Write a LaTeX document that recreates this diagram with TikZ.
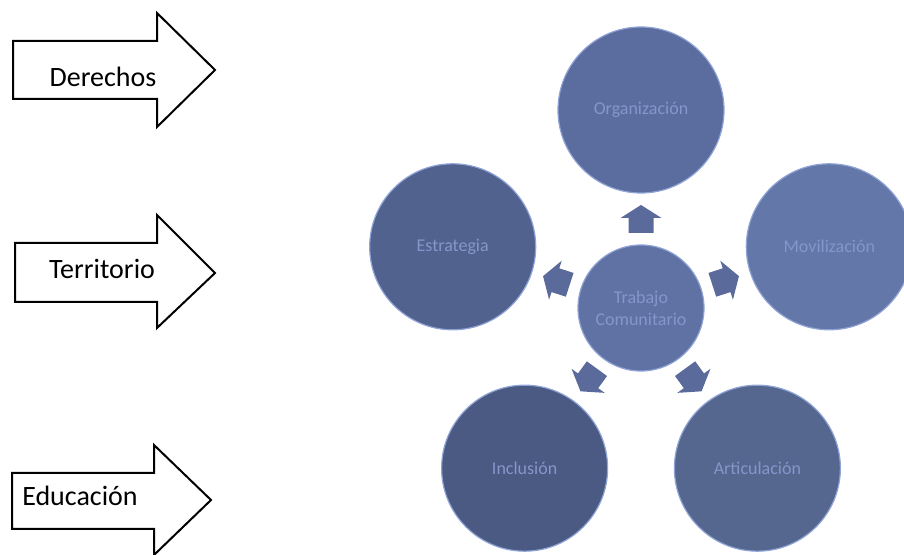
\documentclass[tikz,border=0pt]{standalone}
\usepackage{fontspec}
\setmainfont{Carlito}

\definecolor{ringedge}{HTML}{8FA3D6}
\definecolor{labelblue}{HTML}{8496CB}
\definecolor{hubfill}{HTML}{5F72A3}
\definecolor{orgfill}{HTML}{5B6D9E}
\definecolor{movfill}{HTML}{6378A8}
\definecolor{artfill}{HTML}{56678F}
\definecolor{incfill}{HTML}{4B5A83}
\definecolor{estfill}{HTML}{52628F}
\definecolor{pointerfill}{HTML}{5A6B9B}

\tikzset{
  bubble/.style={circle, draw=ringedge, line width=0.6pt, minimum size=83pt,
    inner sep=0pt, text=labelblue, font=\fontsize{9}{11}\selectfont},
  hub/.style={bubble, minimum size=63pt, align=center},
  bigarrow/.style={draw=black, line width=1pt, fill=white, line join=miter},
  tag/.style={font=\fontsize{14}{16}\selectfont, anchor=base}
}

\begin{document}
\begin{tikzpicture}[x=0.5pt, y=0.5pt]
    \useasboundingbox (0,0) rectangle (904,555);

    %% left arrows
    \draw[bigarrow] (13,514) -- (157,514) -- (157,542) -- (215,485)
        -- (157,428) -- (157,456) -- (13,456) -- cycle;
        \node[tag] (derechos) at (103,468) {Derechos};
    \draw[bigarrow] (15,312) -- (157,312) -- (157,340) -- (215,282)
        -- (157,227) -- (157,253) -- (15,253) -- cycle;
        \node[tag] (territorio) at (102,276) {Territorio};
    \draw[bigarrow] (12,82) -- (154,82) -- (154,110) -- (211,55)
        -- (154,0) -- (154,26) -- (12,26) -- cycle;
        \node[tag] (educacion) at (80,49) {Educación};

    %% radial cluster
    \node[hub, fill=hubfill] (hub) at (641,247) {Trabajo\\Comunitario};
    \node[bubble, fill=orgfill] (org) at ([shift={(90:198)}]hub.center) {Organización};
    \node[bubble, fill=movfill] (mov) at ([shift={(18:198)}]hub.center) {Movilización};
    \node[bubble, fill=artfill] (art) at ([shift={(-54:198)}]hub.center) {Articulación};
    \node[bubble, fill=incfill] (inc) at ([shift={(-126:198)}]hub.center) {Inclusión};
    \node[bubble, fill=estfill] (est) at ([shift={(162:198)}]hub.center) {Estrategia};

    %% pointers
    \foreach \ang in {90,18,-54,-126,162}
        \fill[pointerfill, shift={(hub.center)}, rotate=\ang-90]
            (-12.5,75) -- (12.5,75) -- (12.5,90) -- (20.5,90) -- (0,103)
            -- (-20.5,90) -- (-12.5,90) -- cycle;
\end{tikzpicture}
\end{document}
